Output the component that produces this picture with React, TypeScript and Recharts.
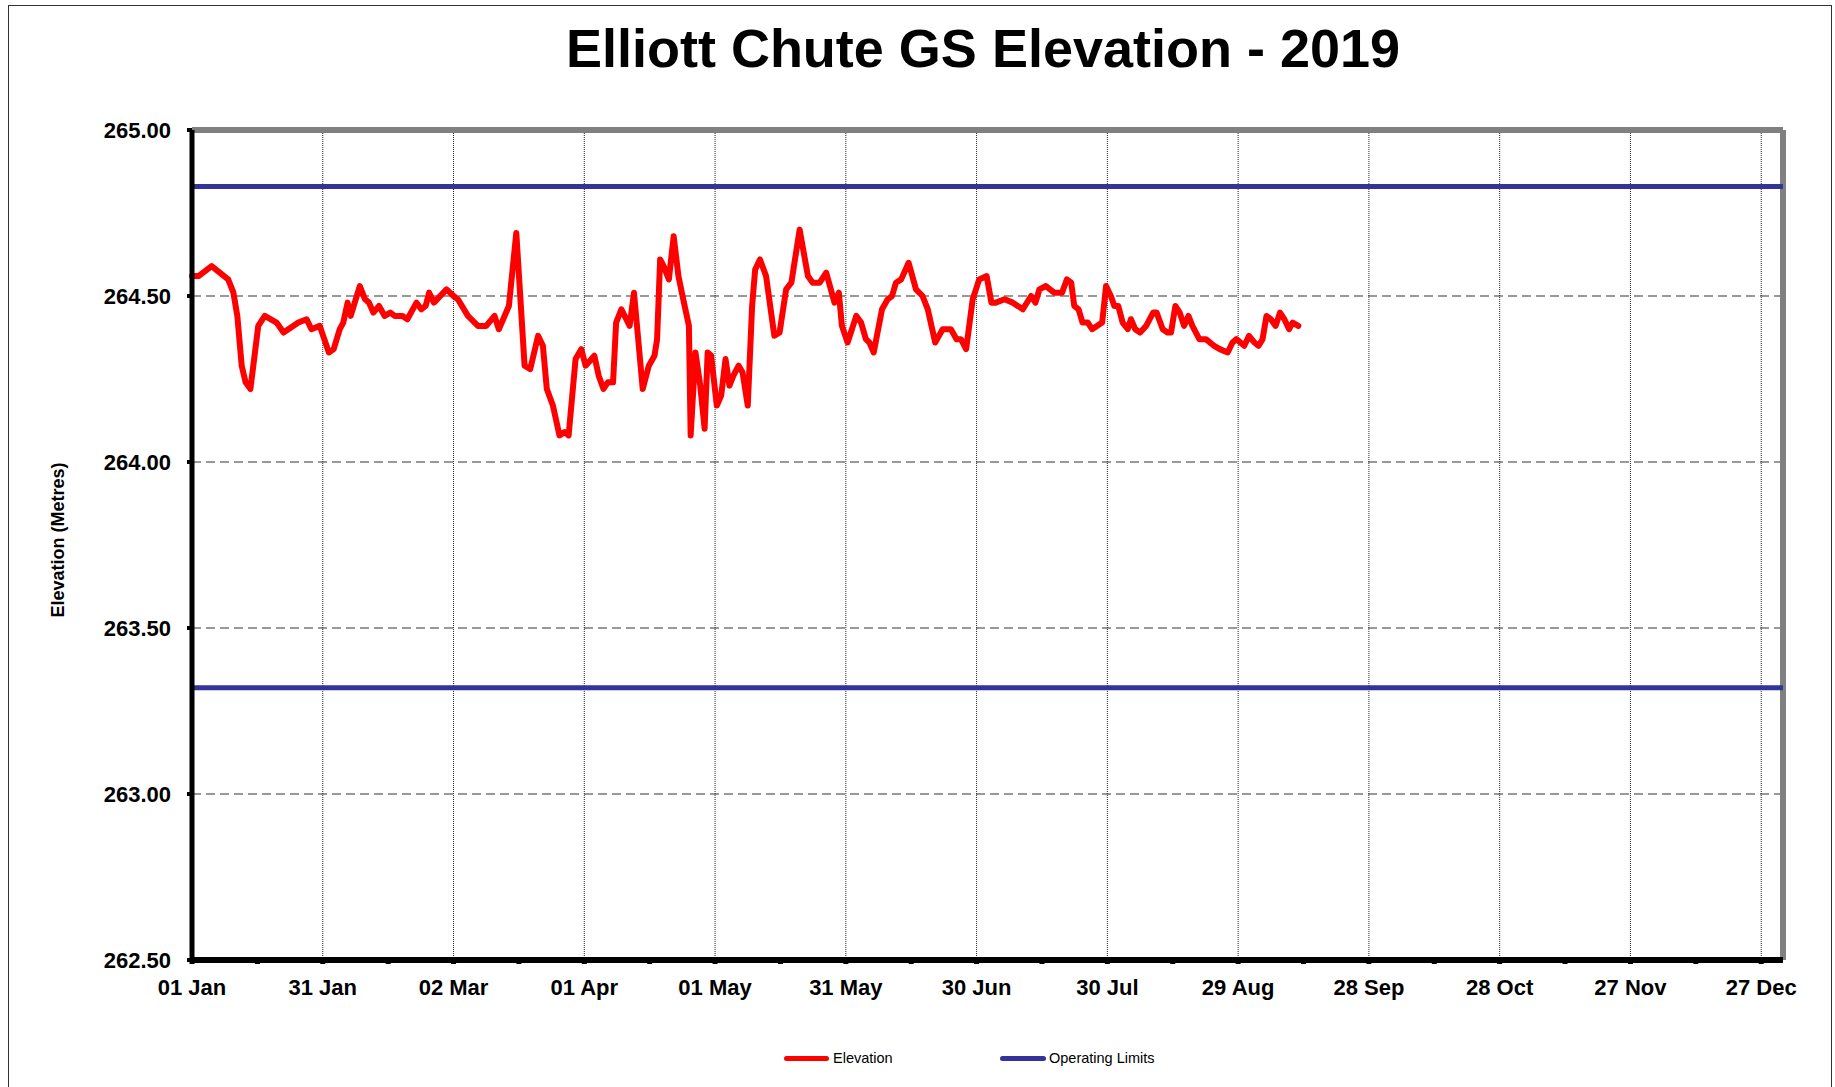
import {
  LineChart,
  Line,
  XAxis,
  YAxis,
  CartesianGrid,
  ReferenceLine,
} from 'recharts';

// day of year (0 = 01 Jan 2019) and measured elevation
const DAYS = [
  0, 1.5, 4.5, 8.3, 9.5, 10.4, 11.4, 12.3, 13.4, 15.2, 16.7, 19.4, 21, 24.4, 26.3, 27.4, 29.3,
  31.4, 32.5, 33.9, 34.7, 35.7, 36.4, 38.5, 39.7, 40.6, 41.6, 42.9, 44.2, 45.5, 46.5, 48.3, 49.4,
  51.5, 52.6, 53.6, 54.4, 55.5, 58.4, 60, 61, 63.3, 65.6, 67.5, 69.4, 70.4, 72.7, 74.4, 76.3,
  77.6, 79.4, 80.5, 81.4, 82.8, 84.3, 85.5, 86.4, 88, 89.3, 90.3, 92.3, 93.3, 94.4, 95.4, 96.6,
  97.3, 98.5, 100.4, 101.4, 103.4, 104.8, 106.1, 106.7, 107.4, 108.2, 109.4, 110.5, 111.6, 112.7,
  114, 114.4, 115.5, 116.6, 117.6, 118.3, 119.1, 120.4, 121.4, 122.4, 123.3, 124.2, 125.4, 126.3,
  127.5, 128.5, 129.2, 130.3, 131.7, 133.6, 134.8, 136.3, 137.5, 139.4, 141.3, 142.4, 144, 145.5,
  147.4, 148.4, 149.1, 150.4, 152.4, 153.5, 154.6, 155.4, 156.4, 158.3, 159.6, 160.6, 161.5, 162.7,
  164.4, 166.1, 167.6, 168.8, 170.5, 172.2, 174.1, 175.4, 176.4, 177.6, 179.1, 180.6, 182.3, 183.4,
  184.4, 186.4, 188.3, 190.6, 192.5, 193.5, 194.4, 195.9, 197.8, 199.6, 200.7, 201.7, 202.4, 203.4,
  204.3, 205.5, 206.5, 208.8, 209.7, 210.8, 211.6, 212.5, 213.5, 214.7, 215.4, 216.4, 217.5, 218.9,
  220.5, 221.3, 222.7, 223.8, 224.6, 225.6, 226.6, 227.6, 228.6, 229.5, 231.1, 232.6, 234.5, 235.8,
  237.6, 238.7, 239.6, 241.4, 242.5, 243.7, 244.7, 245.6, 246.5, 247.5, 248.6, 249.6, 250.6, 251.7,
  252.5, 253.8,
];

const ELEVATION = [
  264.56, 264.56, 264.59, 264.55, 264.51, 264.44, 264.29, 264.24, 264.22, 264.41, 264.44, 264.42, 264.39, 264.42, 264.43, 264.4, 264.41,
  264.33, 264.34, 264.4, 264.42, 264.48, 264.44, 264.53, 264.49, 264.48, 264.45, 264.47, 264.44, 264.45, 264.44, 264.44, 264.43,
  264.48, 264.46, 264.47, 264.51, 264.48, 264.52, 264.5, 264.49, 264.44, 264.41, 264.41, 264.44, 264.4, 264.47, 264.69, 264.29,
  264.28, 264.38, 264.35, 264.22, 264.17, 264.08, 264.09, 264.08, 264.31, 264.34, 264.29, 264.32, 264.26, 264.22, 264.24, 264.24,
  264.42, 264.46, 264.41, 264.51, 264.22, 264.29, 264.32, 264.37, 264.61, 264.59, 264.55, 264.68, 264.56, 264.49,
  264.41, 264.08, 264.33, 264.23, 264.1, 264.33, 264.32, 264.17, 264.2, 264.31, 264.23, 264.26, 264.29, 264.27,
  264.17, 264.47, 264.58, 264.61, 264.56, 264.38, 264.39, 264.52, 264.54, 264.7, 264.56, 264.54, 264.54, 264.57,
  264.48, 264.51, 264.41, 264.36, 264.44, 264.42, 264.37, 264.36, 264.33, 264.46, 264.49, 264.5, 264.54, 264.55,
  264.6, 264.52, 264.5, 264.46, 264.36, 264.4, 264.4, 264.37, 264.37, 264.34, 264.49, 264.55, 264.56, 264.48,
  264.48, 264.49, 264.48, 264.46, 264.5, 264.48, 264.52, 264.53, 264.51, 264.51, 264.55, 264.54, 264.47, 264.46,
  264.42, 264.42, 264.4, 264.42, 264.53, 264.5, 264.47, 264.47, 264.42, 264.4, 264.43, 264.4, 264.39, 264.41,
  264.45, 264.45, 264.4, 264.39, 264.39, 264.47, 264.45, 264.41, 264.44, 264.41, 264.37, 264.37, 264.35, 264.34,
  264.33, 264.36, 264.37, 264.35, 264.38, 264.36, 264.35, 264.37, 264.44, 264.43, 264.41, 264.45, 264.43, 264.4,
  264.42, 264.41,
];

const UPPER_LIMIT = 264.83;
const LOWER_LIMIT = 263.32;
const YEAR_END = 365;

const TICK_DAYS = [0, 30, 60, 90, 120, 150, 180, 210, 240, 270, 300, 330, 360];
const TICK_LABELS = [
  '01 Jan', '31 Jan', '02 Mar', '01 Apr', '01 May', '31 May', '30 Jun',
  '30 Jul', '29 Aug', '28 Sep', '28 Oct', '27 Nov', '27 Dec',
];
const MINOR_DAYS = [0, 15, 30, 45, 60, 75, 90, 105, 120, 135, 150, 165, 180, 195, 210, 225, 240, 255, 270, 285, 300, 315, 330, 345, 360];
const Y_TICKS = [262.5, 263, 263.5, 264, 264.5, 265];

const FONT = '"Liberation Sans", Arial, Helvetica, sans-serif';

const data = DAYS.map((d, i) => ({ day: d, elevation: ELEVATION[i] }));
const upperData = [
  { day: 0, limit: UPPER_LIMIT },
  { day: YEAR_END, limit: UPPER_LIMIT },
];
const lowerData = [
  { day: 0, limit: LOWER_LIMIT },
  { day: YEAR_END, limit: LOWER_LIMIT },
];

const formatDay = (v: number) => {
  const i = TICK_DAYS.indexOf(v);
  return i >= 0 ? TICK_LABELS[i] : '';
};

const App = () => {
  return (
    <div
      style={{
        position: 'absolute',
        left: 0,
        top: 0,
        width: 1835,
        height: 1087,
        background: '#fff',
        fontFamily: FONT,
        overflow: 'hidden',
      }}
    >
      {/* outer frame */}
      <div
        style={{
          position: 'absolute',
          left: 8,
          top: 5,
          width: 1824,
          height: 1100,
          border: '1px solid #333',
          boxSizing: 'border-box',
        }}
      />

      {/* title */}
      <div
        style={{
          position: 'absolute',
          left: 0,
          top: 21,
          width: 1966,
          textAlign: 'center',
          fontSize: 54,
          lineHeight: '54px',
          fontWeight: 'bold',
          color: '#000',
        }}
      >
        Elliott Chute GS Elevation - 2019
      </div>

      {/* y axis title */}
      <div
        style={{
          position: 'absolute',
          left: 58,
          top: 540,
          transform: 'translate(-50%, -50%) rotate(-90deg)',
          fontSize: 18,
          fontWeight: 'bold',
          whiteSpace: 'nowrap',
          color: '#000',
        }}
      >
        Elevation (Metres)
      </div>

      <div style={{ position: 'absolute', left: 0, top: 0 }}>
        <LineChart
          width={1835}
          height={1087}
          data={data}
          margin={{ top: 130, right: 52, left: 112, bottom: 87 }}
        >
          <CartesianGrid
            vertical={false}
            stroke="#999"
            strokeWidth={2}
            strokeDasharray="9 5"
          />
          {TICK_DAYS.filter((d) => d > 0).map((d) => (
            <ReferenceLine
              key={`vgrid-${d}`}
              x={d}
              stroke="#222"
              strokeWidth={1}
              strokeDasharray="1 1"
            />
          ))}
          <XAxis
            dataKey="day"
            type="number"
            domain={[0, YEAR_END]}
            ticks={MINOR_DAYS}
            tickFormatter={formatDay}
            interval={0}
            height={40}
            axisLine={{ stroke: '#000', strokeWidth: 6 }}
            tickLine={{ stroke: '#000', strokeWidth: 5 }}
            tickSize={4}
            tickMargin={15}
            tick={{ fill: '#000', fontSize: 22, fontWeight: 'bold', fontFamily: FONT }}
          />
          <YAxis
            type="number"
            domain={[262.5, 265]}
            ticks={Y_TICKS}
            tickFormatter={(v: number) => v.toFixed(2)}
            width={80}
            axisLine={{ stroke: '#000', strokeWidth: 5 }}
            tickLine={{ stroke: '#000', strokeWidth: 4 }}
            tickSize={5}
            tickMargin={16}
            tick={{ fill: '#000', fontSize: 22, fontWeight: 'bold', fontFamily: FONT }}
            allowDataOverflow
          />
          {/* grey top/right frame */}
          <ReferenceLine y={265} stroke="#808080" strokeWidth={6} />
          <ReferenceLine x={YEAR_END} stroke="#808080" strokeWidth={6} />
          <Line
            data={upperData}
            dataKey="limit"
            name="Operating Limits"
            stroke="#333399"
            strokeWidth={5}
            dot={false}
            isAnimationActive={false}
          />
          <Line
            data={lowerData}
            dataKey="limit"
            name="Operating Limits "
            stroke="#333399"
            strokeWidth={5}
            dot={false}
            isAnimationActive={false}
          />
          <Line
            type="linear"
            dataKey="elevation"
            name="Elevation"
            stroke="#ff0000"
            strokeWidth={6}
            strokeLinejoin="round"
            strokeLinecap="round"
            dot={false}
            isAnimationActive={false}
          />
        </LineChart>
      </div>

      {/* legend */}
      <div
        style={{
          position: 'absolute',
          left: 784,
          top: 1048,
          height: 20,
          display: 'flex',
          alignItems: 'center',
          fontSize: 14.5,
          color: '#000',
        }}
      >
        <span style={{ display: 'inline-block', width: 45, height: 5, borderRadius: 3, background: '#ff0000' }} />
        <span style={{ marginLeft: 4, width: 167 }}>Elevation</span>
        <span style={{ display: 'inline-block', width: 46, height: 5, borderRadius: 3, background: '#333399' }} />
        <span style={{ marginLeft: 3 }}>Operating Limits</span>
      </div>
    </div>
  );
};

export default App;
